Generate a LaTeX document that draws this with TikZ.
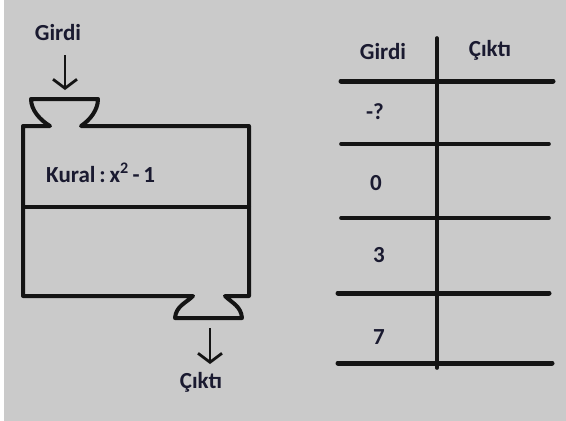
\documentclass[tikz,border=0pt]{standalone}
\usepackage{fontspec}
\setmainfont{Carlito}
\usetikzlibrary{arrows.meta}
\definecolor{bg}{HTML}{CACACA}
\definecolor{ink}{HTML}{141414}
\definecolor{txt}{HTML}{1A1A30}
\tikzset{
  thick line/.style={line width=4pt, draw=ink, line cap=round, line join=round},
  tab line/.style={line width=3.6pt, draw=ink, line cap=round},
  tab bold/.style={line width=5pt, draw=ink, line cap=round},
  flow arrow/.style={line width=2.4pt, draw=ink, -{Straight Barb[length=9pt,width=24pt,line width=2.8pt]}},
  lbl/.style={font=\bfseries\fontsize{23}{25}\selectfont, text=txt, inner sep=0pt},
}
\begin{document}
\begin{tikzpicture}[x=1pt,y=-1pt]
\useasboundingbox (0,0) rectangle (566,421);
\fill[white] (0,0) rectangle (566,421);
\fill[bg] (4,0) rectangle (566,421);

% machine
\node[lbl] (girdi) at (58,33) {Girdi};
\coordinate (inTop) at (65,55);
\coordinate (inTip) at (65,90);
\draw[flow arrow] (inTop) -- (inTip);

\draw[thick line] (50,126) -- (23,126) -- (23,296) -- (193,296)
  .. controls (186,303) and (176,306) .. (175,318) -- (242,318)
  .. controls (241,306) and (232,303) .. (225,296) -- (249,296) -- (249,126) -- (81,126)
  .. controls (90,120) and (98,110) .. (98,99) -- (31,99)
  .. controls (31,110) and (40,120) .. (50,126) -- cycle;
\coordinate (divL) at (23,207);
\coordinate (divR) at (249,207);
\draw[thick line] (divL) -- (divR);
\node[lbl, anchor=west] (kural) at (46,173) {Kural\,:\,$\mathbf{x}^{\mathbf{2}}$\,-\,1};

\coordinate (outTop) at (210,328);
\coordinate (outTip) at (210,364);
\draw[flow arrow] (outTop) -- (outTip);
\node[lbl] (cikti) at (201,382) {Çıktı};

% table
\coordinate (vT) at (437,38);
\coordinate (vB) at (437,368);
\draw[tab line] (vT) -- (vB);
\node[lbl] (hGirdi) at (383,52) {Girdi};
\node[lbl] (hCikti) at (490,50) {Çıktı};
\coordinate (l1a) at (341,81);  \coordinate (l1b) at (553,81);
\coordinate (l2a) at (341,144); \coordinate (l2b) at (549,144);
\coordinate (l3a) at (341,218); \coordinate (l3b) at (549,218);
\coordinate (l4a) at (338,293); \coordinate (l4b) at (549,293);
\coordinate (l5a) at (338,363); \coordinate (l5b) at (552,363);
\draw[tab bold] (l1a) -- (l1b);
\draw[tab line] (l2a) -- (l2b);
\draw[tab line] (l3a) -- (l3b);
\draw[tab bold] (l4a) -- (l4b);
\draw[tab bold] (l5a) -- (l5b);
\node[lbl] (v1) at (375,112) {-?};
\node[lbl] (v2) at (376,183) {0};
\node[lbl] (v3) at (379,255) {3};
\node[lbl] (v4) at (379,337) {7};
\end{tikzpicture}
\end{document}
